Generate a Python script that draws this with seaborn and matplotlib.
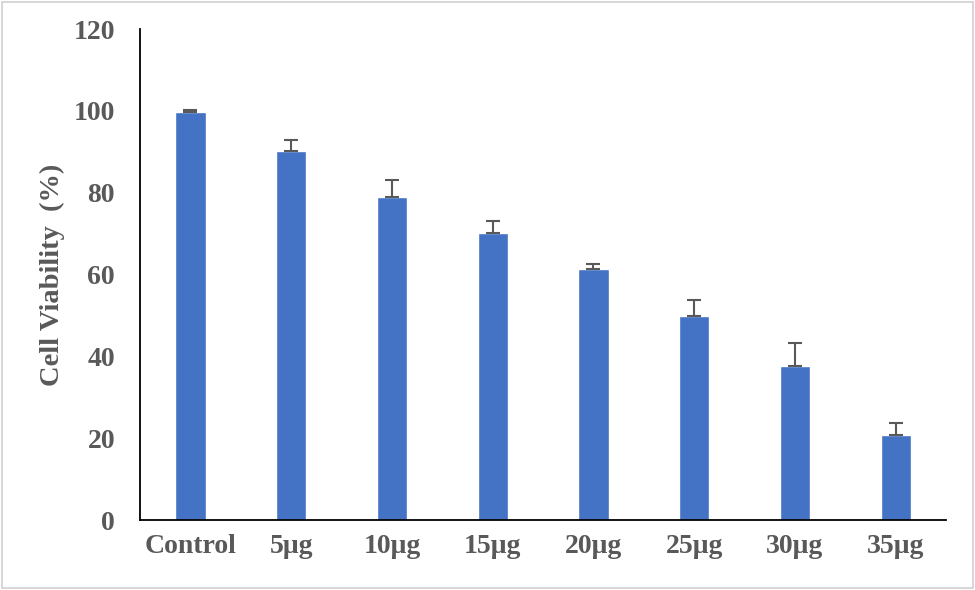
import matplotlib
matplotlib.use('Agg')
import matplotlib.pyplot as plt
import seaborn as sns
import numpy as np
import pandas as pd

# values
doses = ['Control', '5μg', '10μg', '15μg', '20μg', '25μg', '30μg', '35μg']
viability = [99.6, 90.3, 79.0, 70.2, 61.4, 49.8, 37.6, 20.8]
sd = [0.5, 2.7, 4.2, 3.0, 1.1, 4.0, 5.6, 3.0]

df = pd.DataFrame({'dose': doses, 'viability': viability, 'sd': sd})

sns.set_style('white')
plt.rcParams['font.family'] = ['Liberation Serif', 'DejaVu Serif']

gray = '#595959'
fig = plt.figure(figsize=(9.75, 5.9), dpi=100)
ax = fig.add_axes([0.1436, 0.1186, 0.8267, 0.8322])

sns.barplot(data=df, x='dose', y='viability', color='#4472C4', saturation=1,
            width=0.3, errorbar=None, ax=ax)

# upward-only error bars, Excel style
xpos = np.arange(len(df))
ax.errorbar(xpos, df['viability'], yerr=[np.zeros(len(df)), df['sd']],
            fmt='none', ecolor=gray, elinewidth=1.5, capsize=5, capthick=1.5)

ax.set_ylim(0, 120)
ax.set_xlim(-0.5, len(df) - 0.5)
ax.set_yticks(range(0, 121, 20))
ax.set_xlabel('')
ax.set_ylabel('Cell Viability  (%)', fontsize=20.5, fontweight='bold', color=gray, labelpad=6)
ax.tick_params(axis='both', length=0, labelsize=20, labelcolor=gray)
ax.tick_params(axis='x', pad=10)
ax.tick_params(axis='y', pad=18)
for lab in ax.get_xticklabels() + ax.get_yticklabels():
    lab.set_fontweight('bold')

sns.despine(ax=ax)
for s in ['left', 'bottom']:
    ax.spines[s].set_color('black')
    ax.spines[s].set_linewidth(1.3)

# light frame around the whole figure
fig.patches.append(plt.Rectangle((0.002, 0.003), 0.996, 0.994, transform=fig.transFigure,
                                 fill=False, edgecolor='#d0d0d0', linewidth=1.2))

fig.savefig('out.png', dpi=100)
